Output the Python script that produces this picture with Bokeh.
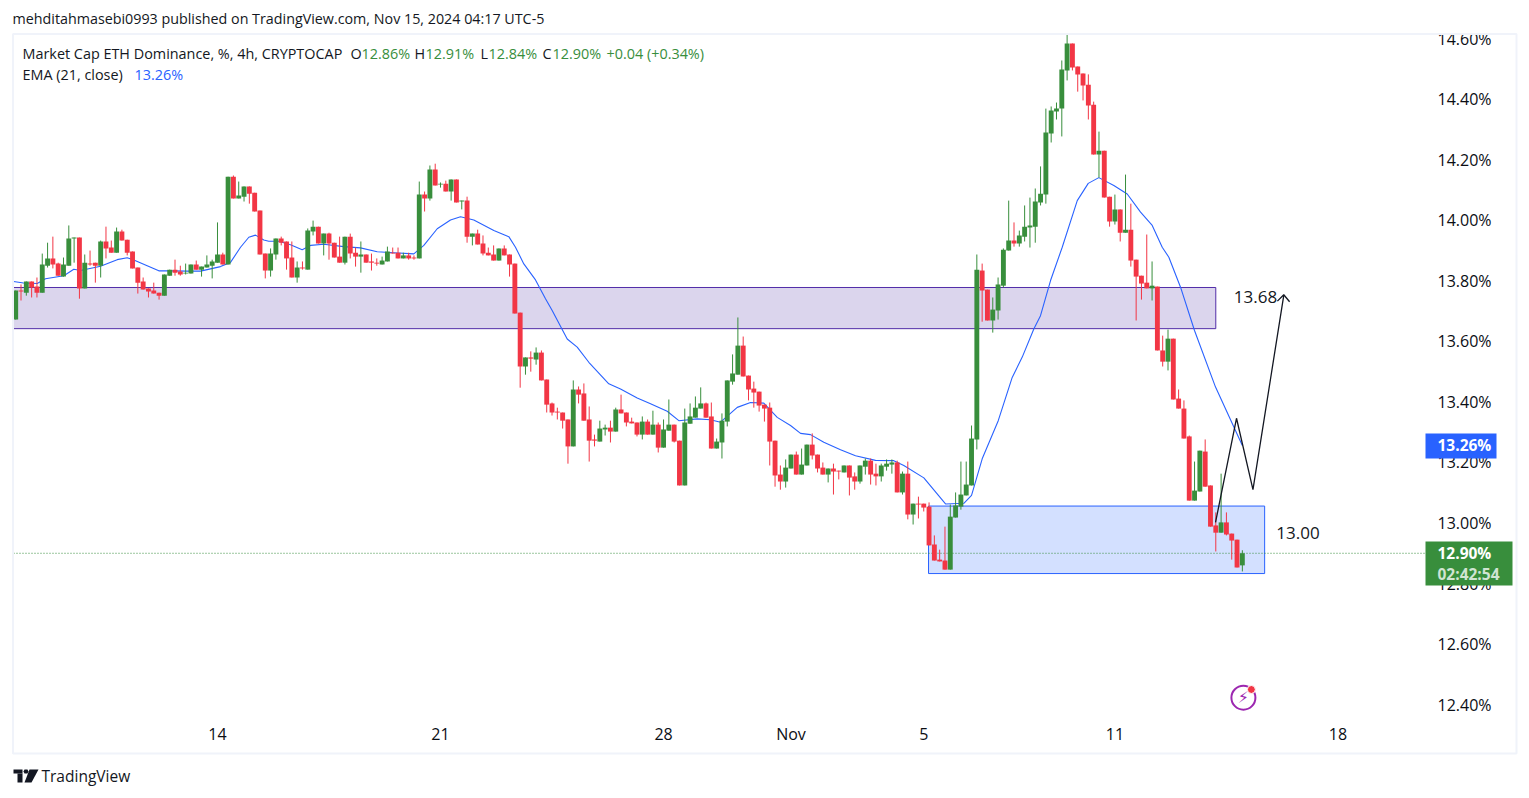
from bokeh.plotting import figure
from bokeh.embed import file_html
from bokeh.resources import INLINE
from bokeh.models import (Range1d, LinearAxis, FixedTicker, PrintfTickFormatter, Label, BoxAnnotation,
                          PolyAnnotation, ColumnDataSource)
from bokeh.core.properties import value

opens = [13.672,13.768,13.761,13.798,13.781,13.761,13.850,13.874,13.857,13.814,
13.850,13.940,13.943,13.775,13.857,13.860,13.850,13.930,13.910,13.893,
13.963,13.936,13.897,13.844,13.798,13.775,13.768,13.761,13.751,13.817,
13.837,13.831,13.824,13.824,13.854,13.837,13.844,13.850,13.860,13.887,
13.854,14.144,14.072,14.078,14.112,14.091,14.032,13.890,13.834,13.887,
13.940,13.930,13.877,13.811,13.844,13.837,13.963,13.979,13.923,13.956,
13.926,13.880,13.860,13.946,13.893,13.880,13.887,13.864,13.860,13.854,
13.864,13.893,13.893,13.874,13.884,13.877,13.874,14.085,14.072,14.168,
14.118,14.121,14.095,14.135,14.062,14.065,13.946,13.956,13.923,13.893,
13.887,13.867,13.907,13.887,13.857,13.695,13.517,13.547,13.540,13.563,
13.474,13.395,13.368,13.365,13.342,13.253,13.441,13.428,13.342,13.276,
13.269,13.309,13.315,13.302,13.375,13.365,13.335,13.332,13.292,13.335,
13.292,13.325,13.249,13.305,13.325,13.272,13.124,13.328,13.348,13.378,
13.395,13.352,13.246,13.266,13.335,13.467,13.490,13.586,13.487,13.444,
13.434,13.391,13.381,13.272,13.160,13.137,13.180,13.226,13.160,13.190,
13.259,13.226,13.183,13.160,13.180,13.173,13.167,13.190,13.154,13.137,
13.186,13.206,13.163,13.154,13.186,13.193,13.200,13.101,13.163,13.028,
13.064,13.064,13.054,12.929,12.879,12.876,12.846,13.018,13.054,13.091,
13.124,13.276,13.834,13.771,13.669,13.702,13.784,13.900,13.933,13.923,
13.946,13.976,13.979,14.059,14.085,14.287,14.359,14.369,14.495,14.584,
14.508,14.485,14.448,14.382,14.217,14.230,14.078,13.996,14.036,13.959,
13.969,13.870,13.817,13.794,13.775,13.781,13.570,13.533,13.609,13.411,
13.378,13.286,13.074,13.104,13.236,13.124,12.992,12.968,13.002,12.965,
12.945,12.86]

highs = [13.768,13.788,13.798,13.798,13.811,13.890,13.926,13.946,13.860,13.877,
13.983,13.943,13.943,13.887,13.900,13.860,13.933,13.979,13.933,13.976,
13.969,13.936,13.897,13.844,13.811,13.775,13.794,13.761,13.821,13.837,
13.870,13.850,13.857,13.854,13.867,13.847,13.884,13.870,13.993,13.893,
14.144,14.148,14.128,14.112,14.112,14.091,14.032,13.890,13.907,13.940,
13.946,13.930,13.930,13.864,13.864,13.973,13.999,13.979,13.956,13.959,
13.926,13.946,13.946,13.956,13.910,13.930,13.887,13.890,13.874,13.880,
13.913,13.910,13.910,13.893,13.893,13.884,14.128,14.095,14.181,14.187,
14.125,14.131,14.135,14.135,14.065,14.078,13.956,13.969,13.950,13.910,
13.917,13.907,13.917,13.887,13.857,13.695,13.547,13.567,13.580,13.570,
13.474,13.398,13.381,13.365,13.342,13.471,13.451,13.461,13.385,13.292,
13.338,13.325,13.338,13.381,13.424,13.365,13.348,13.332,13.352,13.342,
13.371,13.332,13.342,13.408,13.325,13.272,13.378,13.395,13.418,13.448,
13.398,13.398,13.279,13.362,13.471,13.557,13.679,13.616,13.487,13.467,
13.434,13.391,13.398,13.272,13.190,13.210,13.226,13.236,13.246,13.259,
13.296,13.226,13.200,13.180,13.196,13.173,13.190,13.190,13.167,13.190,
13.213,13.213,13.196,13.196,13.210,13.210,13.206,13.170,13.203,13.064,
13.087,13.064,13.068,12.959,12.912,12.988,13.061,13.101,13.203,13.203,
13.322,13.887,13.857,13.771,13.745,13.811,13.907,14.065,13.993,13.966,
14.049,14.075,14.105,14.178,14.369,14.376,14.389,14.528,14.614,14.584,
14.508,14.485,14.482,14.392,14.293,14.230,14.078,14.085,14.036,14.151,
14.055,13.870,13.817,13.953,13.864,13.781,13.619,13.639,13.609,13.441,
13.405,13.289,13.203,13.239,13.276,13.124,13.035,13.163,13.035,12.965,
12.945,12.91]

lows = [13.672,13.735,13.751,13.745,13.745,13.761,13.844,13.841,13.817,13.814,
13.850,13.860,13.741,13.775,13.850,13.794,13.811,13.874,13.893,13.893,
13.933,13.884,13.841,13.758,13.771,13.745,13.758,13.738,13.751,13.817,
13.817,13.817,13.821,13.824,13.837,13.814,13.844,13.808,13.860,13.854,
13.854,14.072,14.072,14.062,14.055,14.029,13.887,13.808,13.814,13.870,
13.917,13.837,13.811,13.794,13.837,13.837,13.950,13.923,13.884,13.870,
13.877,13.860,13.854,13.874,13.847,13.827,13.860,13.834,13.850,13.854,
13.864,13.890,13.874,13.874,13.870,13.870,13.874,14.029,14.065,14.115,
14.108,14.095,14.065,14.059,14.036,13.926,13.917,13.920,13.884,13.884,
13.867,13.867,13.884,13.814,13.692,13.447,13.490,13.500,13.523,13.471,
13.365,13.355,13.342,13.312,13.196,13.253,13.395,13.338,13.203,13.253,
13.269,13.289,13.266,13.302,13.362,13.319,13.329,13.286,13.276,13.292,
13.292,13.233,13.249,13.305,13.266,13.124,13.124,13.328,13.348,13.378,
13.348,13.246,13.246,13.213,13.319,13.457,13.490,13.484,13.405,13.381,
13.368,13.335,13.190,13.120,13.110,13.117,13.180,13.160,13.160,13.190,
13.210,13.167,13.160,13.134,13.094,13.144,13.167,13.091,13.110,13.130,
13.160,13.127,13.124,13.137,13.173,13.163,13.101,13.094,13.012,12.995,
13.015,13.038,12.926,12.876,12.873,12.846,12.846,13.018,13.044,13.091,
13.124,13.243,13.665,13.669,13.629,13.672,13.778,13.900,13.913,13.913,
13.930,13.910,13.926,14.049,14.055,14.257,14.333,14.277,14.462,14.495,
14.425,14.396,14.333,14.217,14.141,14.075,13.979,13.986,13.930,13.959,
13.847,13.669,13.738,13.775,13.735,13.570,13.517,13.504,13.408,13.378,
13.279,13.074,13.074,13.104,13.120,12.988,12.906,12.968,12.959,12.879,
12.853,12.84]

closes = [13.768,13.765,13.798,13.778,13.761,13.854,13.874,13.854,13.817,13.854,
13.940,13.943,13.775,13.860,13.854,13.850,13.930,13.907,13.893,13.963,
13.933,13.893,13.841,13.794,13.771,13.765,13.758,13.751,13.821,13.837,
13.827,13.821,13.827,13.854,13.837,13.847,13.854,13.864,13.887,13.854,
14.144,14.072,14.082,14.112,14.088,14.029,13.887,13.834,13.890,13.940,
13.926,13.874,13.811,13.844,13.841,13.966,13.979,13.923,13.956,13.923,
13.877,13.860,13.946,13.890,13.880,13.887,13.860,13.860,13.857,13.867,
13.897,13.890,13.874,13.884,13.874,13.874,14.085,14.072,14.168,14.115,
14.121,14.095,14.135,14.059,14.065,13.946,13.956,13.920,13.890,13.884,
13.867,13.907,13.884,13.854,13.692,13.517,13.547,13.543,13.563,13.471,
13.391,13.365,13.365,13.338,13.253,13.441,13.424,13.338,13.272,13.272,
13.312,13.315,13.302,13.375,13.362,13.332,13.329,13.292,13.335,13.292,
13.325,13.249,13.309,13.325,13.269,13.124,13.332,13.352,13.381,13.395,
13.348,13.246,13.269,13.338,13.471,13.494,13.586,13.484,13.441,13.431,
13.388,13.378,13.269,13.157,13.137,13.183,13.226,13.160,13.193,13.259,
13.223,13.180,13.160,13.180,13.170,13.170,13.190,13.150,13.137,13.190,
13.206,13.160,13.154,13.190,13.196,13.200,13.101,13.163,13.028,13.064,
13.061,13.051,12.926,12.876,12.873,12.846,13.021,13.058,13.094,13.127,
13.279,13.837,13.768,13.669,13.705,13.788,13.903,13.933,13.923,13.950,
13.979,13.983,14.062,14.088,14.290,14.363,14.369,14.498,14.584,14.505,
14.482,14.445,14.379,14.217,14.230,14.075,13.996,14.036,13.959,13.969,
13.867,13.814,13.791,13.775,13.784,13.570,13.533,13.609,13.408,13.378,
13.279,13.074,13.107,13.239,13.120,12.988,12.968,13.002,12.962,12.942,
12.853,12.90]

ema_idx = [-0.41,1.47,4.05,5.61,9.06,10.94,12.20,15.97,19.11,21.00,22.24,24.76,26.95,29.15,32.30,34.80,38.57,40.45,42.34,43.90,
45.16,46.72,47.66,49.55,51.75,53.95,55.52,58.02,61.79,64.93,68.08,71.21,74.97,76.86,79.38,81.88,83.77,86.27,90.04,92.86,
94.12,95.69,97.89,99.77,101.03,103.86,105.74,107.93,111.69,113.90,117.04,119.55,122.69,124.88,128.34,130.85,132.73,135.88,138.38,140.88,
143.41,145.91,147.80,149.68,152.18,155.33,158.15,161.92,165.37,167.25,171.02,175.10,178.55,180.0,182.01,185.03,187.66,189.55,191.73,192.99,
194.88,197.08,199.91,201.98,203.97,206.80,209.32,211.83,214.03,215.91,217.16,219.36,221.99,225.95,231]
ema_val = [13.798,13.793,13.791,13.807,13.817,13.838,13.834,13.848,13.870,13.876,13.869,13.850,13.833,13.833,13.832,13.832,13.847,13.861,13.911,13.944,
13.951,13.935,13.931,13.931,13.919,13.903,13.917,13.921,13.913,13.909,13.896,13.893,13.889,13.917,13.972,14.001,14.012,14.001,13.966,13.946,
13.911,13.856,13.803,13.741,13.702,13.608,13.581,13.531,13.460,13.443,13.413,13.394,13.369,13.338,13.344,13.341,13.333,13.382,13.398,13.396,
13.349,13.322,13.296,13.292,13.267,13.242,13.222,13.207,13.206,13.190,13.149,13.063,13.065,13.091,13.212,13.338,13.481,13.548,13.641,13.685,
13.801,13.911,14.065,14.122,14.141,14.115,14.087,14.027,13.983,13.911,13.878,13.779,13.636,13.449,13.256]

price_ticks = [12.4,12.6,12.8,13.0,13.2,13.4,13.6,13.8,14.0,14.2,14.4,14.6]
date_ticks = [38,80,122,146,171,207,249]
date_labels = ["14","21","28","Nov","5","11","18"]
zone_purple = (13.778,13.642,-0.42,226.0)
zone_blue = (13.056,12.833,171.9,235.2)
path_idx = [225.95,229.9,233.0,238.8]
path_val = [13.002,13.346,13.110,13.752]
head_idx = [237.6,238.8,239.9]
head_val = [13.733,13.754,13.731]

GREEN, RED, BLUE = "#388E3C", "#F23645", "#2962FF"
INK = "#131722"
FONT = "Open Sans"
W, H = 1521, 790
X_LEFT, X_AXIS = -0.414, 265.5      # pane's left edge and the column of the price scale, in bars
Y_AXIS = 12.364                     # pane's bottom edge, in price

p = figure(width=W, height=H, output_backend="svg", toolbar_location=None,
           x_range=Range1d(-2.863, 283.57), y_range=Range1d(12.1163, 14.7261),
           min_border=0, min_border_left=0, min_border_right=0, min_border_top=0, min_border_bottom=0,
           x_axis_location=None, y_axis_location=None, outline_line_color=None,
           background_fill_color="white", border_fill_color="white")
p.grid.visible = False

yax = LinearAxis(ticker=FixedTicker(ticks=price_ticks), formatter=PrintfTickFormatter(format="%.2f%%"),
                 fixed_location=X_AXIS,
                 axis_line_color=None, major_tick_line_color=None, minor_tick_line_color=None,
                 major_label_text_font=FONT, major_label_text_font_size="16px",
                 major_label_text_color="#0B0E14", major_label_standoff=6)
p.add_layout(yax, "right")
xax = LinearAxis(ticker=FixedTicker(ticks=date_ticks), fixed_location=Y_AXIS,
                 major_label_overrides={t: s for t, s in zip(date_ticks, date_labels)},
                 axis_line_color=None, major_tick_line_color=None, minor_tick_line_color=None,
                 major_label_text_font=FONT, major_label_text_font_size="16px",
                 major_label_text_color="#0B0E14", major_label_standoff=1)
p.add_layout(xax, "below")

p.quad(top=[zone_purple[0]], bottom=[zone_purple[1]], left=[zone_purple[2]], right=[zone_purple[3]],
       fill_color="#DBD5ED", line_color="#512DA8", line_width=1)
p.quad(top=[zone_blue[0]], bottom=[zone_blue[1]], left=[zone_blue[2]], right=[zone_blue[3]],
       fill_color="#D3E0FF", line_color=BLUE, line_width=1)

p.segment([X_LEFT], [closes[-1]], [X_AXIS], [closes[-1]], line_color=GREEN, line_width=1, line_dash="1 2")
p.line(ema_idx, ema_val, line_color=BLUE, line_width=1.1)

idx = list(range(len(opens)))
src = ColumnDataSource(dict(x=idx, o=opens, h=highs, l=lows, c=closes,
                            col=[GREEN if c >= o else RED for o, c in zip(opens, closes)]))
p.segment("x", "h", "x", "l", source=src, line_color="col", line_width=1)
p.vbar("x", width=0.92, top="o", bottom="c", source=src, fill_color="col", line_color=None)

p.line(path_idx, path_val, line_color=INK, line_width=1.3)
p.line(head_idx, head_val, line_color=INK, line_width=1.3)

p.text([229.4], [13.745], text=["13.68"], text_font=value(FONT), text_font_size="17px",
       text_color=INK, text_baseline="middle")
p.text([237.4], [12.968], text=["13.00"], text_font=value(FONT), text_font_size="17px",
       text_color=INK, text_baseline="middle")

# notification badge
p.scatter([231.2], [12.423], marker="circle", size=24, fill_color=None, line_color="#9C27B0", line_width=2)
p.text([231.2], [12.423], text=["\u26A1"], text_font=value("DejaVu Sans"), text_font_size="16px",
       text_color="#9C27B0", text_align="center", text_baseline="middle")
p.scatter([232.7], [12.450], marker="circle", size=8, fill_color=RED, line_color="white", line_width=1)

def sy(y): return H - y

def lab(x, y, text, color=INK, size=14.4, weight="normal", font=FONT):
    p.add_layout(Label(x=x - 1, y=sy(y - 1), x_units="screen", y_units="screen", text=text, text_color=color,
                       text_font=font, text_font_size=f"{size}px", text_font_style=weight,
                       text_baseline="middle"))

def box(x0, y0, x1, y1, fill, line=None, lw=1):
    p.add_layout(BoxAnnotation(left=x0, right=x1, top=sy(y0), bottom=sy(y1),
                               left_units="screen", right_units="screen", top_units="screen", bottom_units="screen",
                               fill_color=fill or "white", fill_alpha=1 if fill else 0,
                               line_color=line or "white", line_width=lw, line_alpha=1 if line else 0))

box(1430, 20, 1515, 33, "white")
box(12.5, 33.5, 1516, 753, None, "#F0F3FA", 2)
box(1425, 433, 1496, 458, BLUE)
box(1425, 541, 1512, 585, GREEN)

lab(13, 19, "mehditahmasebi0993 published on TradingView.com, Nov 15, 2024 04:17 UTC-5", size=14.3)
lab(23, 54, "Market Cap ETH Dominance, %, 4h, CRYPTOCAP")
lab(351, 54, "O")
lab(362, 54, "12.86%", GREEN)
lab(415, 54, "H")
lab(426, 54, "12.91%", GREEN)
lab(481, 54, "L")
lab(489, 54, "12.84%", GREEN)
lab(543, 54, "C")
lab(553, 54, "12.90%", GREEN)
lab(607, 54, "+0.04 (+0.34%)", GREEN)
lab(23, 75, "EMA (21, close)")
lab(135, 75, "13.26%", BLUE)
lab(1438, 445, "13.26%", "white", 15.5, "bold")
lab(1438, 553, "12.90%", "white", 15.5, "bold")
lab(1438, 574, "02:42:54", "#D0E4D2", 15.5, "bold")
lab(42, 776, "TradingView", INK, 15.5)

# TradingView mark
box(13, 769, 22, 773, INK)
box(17, 773, 22, 782, INK)
p.add_layout(PolyAnnotation(xs=[29, 38, 31, 24], ys=[sy(v) for v in [769, 769, 782, 782]],
                            xs_units="screen", ys_units="screen", fill_color=INK, fill_alpha=1, line_alpha=0))
p.add_layout(PolyAnnotation(xs=[24, 27, 28, 27, 24, 23], ys=[sy(v) for v in [769, 769, 771, 773, 773, 771]],
                            xs_units="screen", ys_units="screen", fill_color=INK, fill_alpha=1, line_alpha=0))

open("out.html", "w").write(file_html(p, INLINE))
